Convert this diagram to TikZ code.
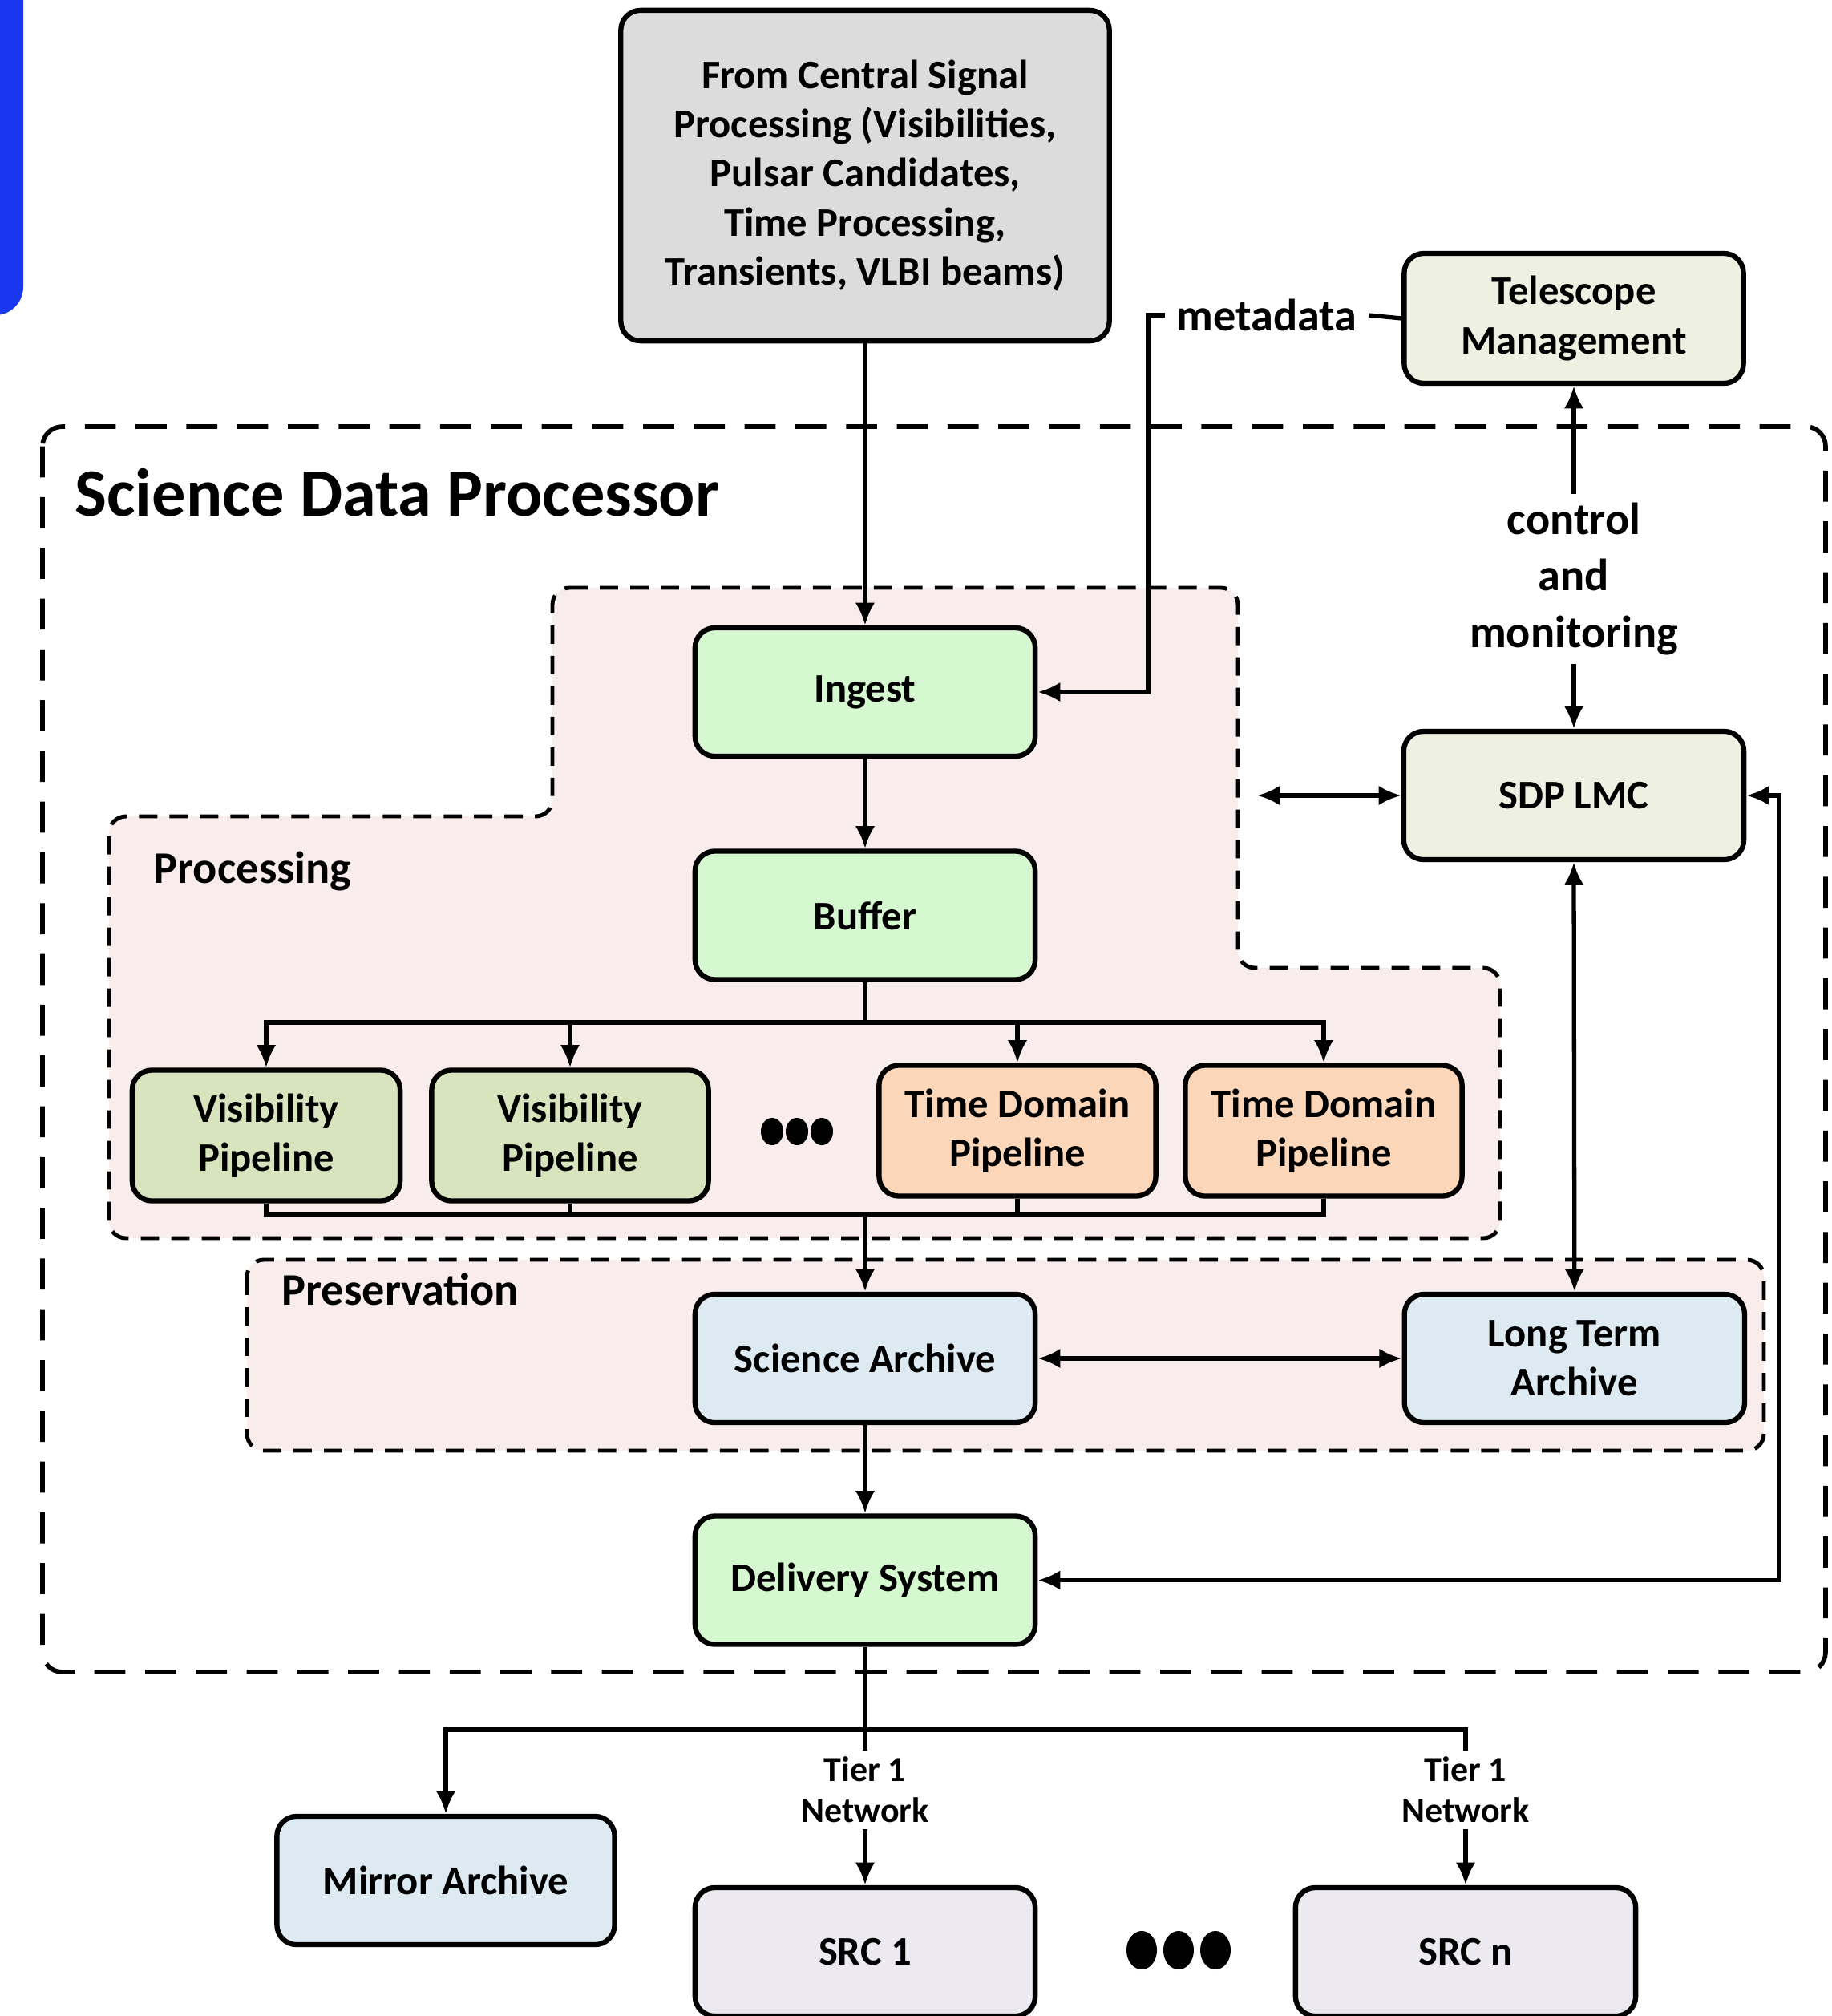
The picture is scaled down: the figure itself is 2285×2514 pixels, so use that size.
\documentclass[tikz,border=0pt]{standalone}
\usepackage{fontspec}
\setmainfont{Carlito}
\usetikzlibrary{arrows.meta, positioning}

\definecolor{cspgray}{HTML}{DCDCDC}
\definecolor{mgmt}{HTML}{EEF0E2}
\definecolor{ingestgreen}{HTML}{D6F8D0}
\definecolor{visgreen}{HTML}{D8E4BD}
\definecolor{tdorange}{HTML}{FBD6B8}
\definecolor{archblue}{HTML}{DDEAF2}
\definecolor{srcgray}{HTML}{ECEAF0}
\definecolor{regionpink}{HTML}{F8ECEC}
\definecolor{artblue}{HTML}{1A37F0}

\tikzstyle{blk} = [rectangle, rounded corners = 7pt, draw = black,
  line width = 1.8pt, text centered, align = center,
  font = \bfseries\fontsize{14.4}{17.4}\selectfont]
\tikzstyle{wide} = [minimum width = 4.24cm, minimum height = 1.6cm]
\tikzstyle{pipe} = [minimum width = 3.45cm, minimum height = 1.63cm]
\tikzstyle{lbl} = [align = center, font = \bfseries\fontsize{16}{20}\selectfont]
\tikzstyle{tier} = [align = center, inner sep = 2pt,
  font = \bfseries\fontsize{12.5}{14.6}\selectfont]
\tikzstyle{conn} = [line width = 1.5pt]
\tikzstyle{region} = [
  fill = regionpink, draw = black, line width = 1.4pt,
  dash pattern = on 6.5pt off 4.3pt, rounded corners = 6pt
]

\begin{document}
\begin{tikzpicture}[x = 0.01cm, y = -0.01cm, >={Latex[length = 8pt, width = 7pt]}]
      \useasboundingbox (0, 0) rectangle (2285, 2514);
      \fill [artblue, rounded corners = 10pt] (-60, -60) rectangle (29, 393);

      % SDP outline
      \draw [line width = 1.6pt, dash pattern = on 11pt off 7pt, rounded corners = 7pt]
      (53, 532) rectangle (2277, 2085);
      \node [anchor = west, inner sep = 0, font = \bfseries\fontsize{24}{28}\selectfont]
      (sdp-title) at (93, 614) {Science Data Processor};

      % processing / preservation
      \draw [region] (689, 733) -- (1544, 733) -- (1544, 1207) -- (1871, 1207) --
      (1871, 1544) -- (136, 1544) -- (136, 1018) -- (689, 1018) -- cycle;
      \node [lbl, anchor = west, inner sep = 0] (proc-title) at (191, 1087) {Processing};
      \draw [region] (308, 1571) rectangle (2200, 1809);
      \node [lbl, anchor = west, inner sep = 0] (pres-title) at (351, 1608) {Preservation};

      % top
      \node [blk, fill = cspgray, minimum width = 6.09cm, minimum height = 4.12cm] (csp)
      at (1079, 219) {From Central Signal\\Processing (Visibilities,\\Pulsar Candidates,\\Time Processing,\\Transients, VLBI beams)};
      \node [blk, fill = mgmt, minimum width = 4.23cm, minimum height = 1.62cm] (tm)
      at (1963, 397) {Telescope\\Management};
      \node [lbl, inner sep = 4pt] (meta) at (1580, 393) {metadata};

      % sdp
      \node [blk, fill = ingestgreen, wide] (ingest) at (1079, 863) {Ingest};
      \node [blk, fill = ingestgreen, wide, below = 1.12cm of ingest] (buffer) {Buffer};
      \node [blk, fill = visgreen, pipe, minimum width = 3.34cm] (vis-1) at (332, 1416) {Visibility\\Pipeline};
      \node [blk, fill = visgreen, pipe] (vis-2) at (711, 1416) {Visibility\\Pipeline};
      \node [blk, fill = tdorange, pipe] (td-1) at (1269, 1410) {Time Domain\\Pipeline};
      \node [blk, fill = tdorange, pipe] (td-2) at (1651, 1410) {Time Domain\\Pipeline};
      \node [blk, fill = archblue, wide] (sciarch) at (1079, 1694) {Science Archive};
      \node [blk, fill = archblue, wide, right = 4.54cm of sciarch] (lta) {Long Term\\Archive};
      \node [blk, fill = mgmt, wide] (lmc) at (1963, 992) {SDP LMC};
      \node [lbl, inner sep = 3pt] (ctl) at (1963, 722) {control\\and\\monitoring};
      \node [blk, fill = ingestgreen, wide, below = 1.1cm of sciarch] (deliv) {Delivery System};

      % outside
      \node [blk, fill = archblue, wide, minimum width = 4.21cm] (mirror) at (556, 2345) {Mirror Archive};
      \node [tier] (tier-1) at (1079, 2232) {Tier 1\\Network};
      \node [tier] (tier-n) at (1828, 2232) {Tier 1\\Network};
      \node [blk, fill = srcgray, wide] (src-1) at (1079, 2434) {SRC 1};
      \node [blk, fill = srcgray, wide] (src-n) at (1828, 2434) {SRC n};

      \foreach \dx in {-1, 0, 1} {
        \fill (994 + \dx * 31, 1411) ellipse [x radius = 0.14cm, y radius = 0.17cm];
        \fill (1470 + \dx * 46, 2432) ellipse [x radius = 0.19cm, y radius = 0.24cm];
      }

      % connectors
      \draw [conn, ->] (csp.south) -- (ingest.north);
      \draw [conn] (tm.west) -- (meta.east);
      \coordinate (meta-turn) at (1432, 393);
      \draw [conn, ->] (meta.west) -- (meta-turn) |- (ingest.east);
      \draw [conn, ->] (ingest) -- (buffer);
      \coordinate (fan) at (1079, 1275);
      \draw [conn] (buffer.south) -- (fan);
      \foreach \p in {vis-1, vis-2, td-1, td-2}
        \draw [conn, ->] (fan) -| (\p.north);
      \coordinate (merge) at (1079, 1515);
      \foreach \p in {vis-1, vis-2, td-1, td-2}
        \draw [conn] (\p.south) |- (merge);
      \draw [conn, ->] (merge) -- (sciarch.north);
      \draw [conn, <->] (sciarch.east) -- (lta.west);
      \draw [conn, ->] (sciarch.south) -- (deliv.north);
      \draw [conn, ->] (ctl.north) -- (tm.south);
      \draw [conn, ->] (ctl.south) -- (lmc.north);
      \coordinate (proc-edge) at (1568, 992);
      \draw [conn, <->] (proc-edge) -- (lmc.west);
      \draw [conn, <->] (lmc.south) -- (lta.north);
      \coordinate (lmc-loop) at (2219, 992);
      \draw [conn, <->] (deliv.east) -| (lmc-loop) -- (lmc.east);

      \coordinate (out) at (1079, 2157);
      \draw [conn] (deliv.south) -- (out);
      \draw [conn, ->] (out) -| (mirror.north);
      \draw [conn] (out) -- (tier-1.north);
      \draw [conn] (out) -| (tier-n.north);
      \draw [conn, ->] (tier-1.south) -- (src-1.north);
      \draw [conn, ->] (tier-n.south) -- (src-n.north);
\end{tikzpicture}
\end{document}
